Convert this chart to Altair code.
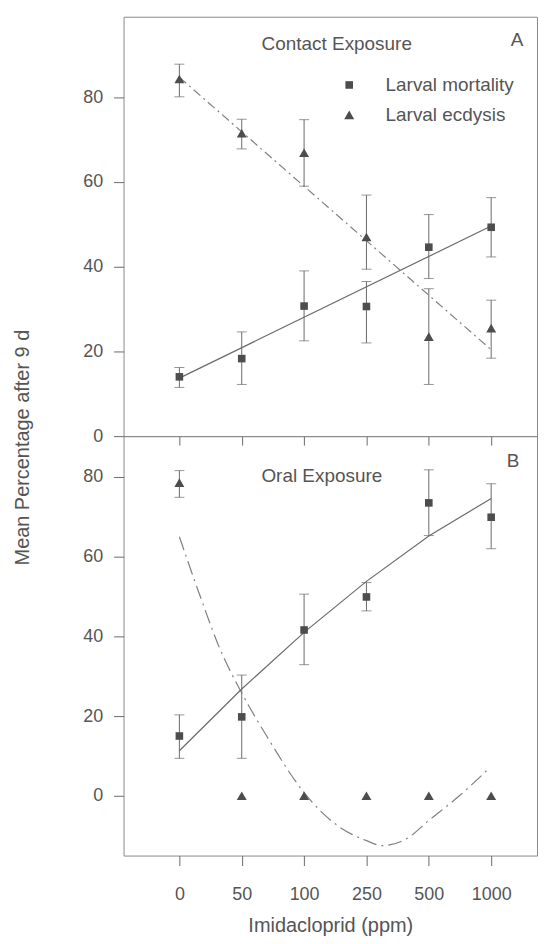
import json
import altair as alt
import pandas as pd

# ---------------- data ----------------
doses = ["0", "50", "100", "250", "500", "1000"]
pos = [0, 1, 2, 3, 4, 5]
series_names = ["Larval mortality", "Larval ecdysis"]

# Panel A : Contact exposure
a_mort = [14.0, 18.3, 30.7, 30.6, 44.6, 49.3]
a_mort_lo = [11.5, 12.2, 22.5, 22.0, 37.2, 42.3]
a_mort_hi = [16.2, 24.6, 39.0, 36.5, 52.3, 56.3]
a_ecd = [84.3, 71.5, 66.9, 47.0, 23.5, 25.5]
a_ecd_lo = [80.1, 67.8, 59.0, 39.4, 12.2, 18.4]
a_ecd_hi = [87.8, 74.8, 74.7, 56.9, 34.8, 32.1]
a_mfit_x = [0, 5]
a_mfit_y = [13.7, 49.6]
a_efit_x = [0, 5]
a_efit_y = [84.7, 20.4]

# Panel B : Oral exposure
b_mort = [15.0, 19.8, 41.6, 49.9, 73.5, 69.9]
b_mort_lo = [9.4, 9.4, 32.9, 46.4, 65.3, 62.0]
b_mort_hi = [20.3, 30.3, 50.6, 53.5, 81.8, 78.3]
b_ecd = [78.6, 0, 0, 0, 0, 0]
b_ecd_lo = [74.9, None, None, None, None, None]
b_ecd_hi = [81.6, None, None, None, None, None]
b_mfit_x = [0, 1, 2, 3, 4, 5]
b_mfit_y = [11.3, 26.8, 41.0, 53.8, 65.2, 74.6]
b_efit_x = [0, 0.335, 0.655, 1.0, 1.40, 2.0, 2.47, 2.99, 3.26, 3.64, 4.0, 4.49, 4.98]
b_efit_y = [65, 50, 36.7, 25.8, 15, 0.8, -6.7, -11.2, -12.5, -10.8, -6.2, 0, 7.1]

y_ticks = [0, 20, 40, 60, 80]

FONT = "Liberation Sans"
TXT = "#555555"
MARK = "#4d4d4d"
LINE = "#6a6a6a"
X_DOMAIN = [-0.895, 5.735]
W, H = 415, 421


def panel(mort, mort_lo, mort_hi, ecd, ecd_lo, ecd_hi,
          mfx, mfy, efx, efy, ydom, label, letter, label_xy, letter_xy,
          top, edash):
    pts = pd.DataFrame({
        "pos": pos + pos,
        "value": mort + ecd,
        "lo": mort_lo + ecd_lo,
        "hi": mort_hi + ecd_hi,
        "series": [series_names[0]] * 6 + [series_names[1]] * 6,
    })
    err = pts.dropna(subset=["lo", "hi"])
    caps = pd.concat([
        err[["pos", "lo"]].rename(columns={"lo": "v"}),
        err[["pos", "hi"]].rename(columns={"hi": "v"}),
    ])

    xs = alt.Scale(domain=X_DOMAIN, nice=False, zero=False)
    ys = alt.Scale(domain=ydom, nice=False, zero=False)

    common_y = dict(values=y_ticks, tickSize=10, labelPadding=11,
                    grid=False, domain=False, labelFontSize=18,
                    labelFont=FONT, labelColor=TXT, tickColor=LINE)
    if top:
        xaxis = alt.Axis(values=pos, labels=False, title=None, tickSize=9,
                         domain=False, grid=False, tickColor=LINE)
        yaxis = alt.Axis(title="Mean Percentage after 9 d",
                         titleX=-101, titleY=432, titleAngle=270,
                         titleAlign="center", titleBaseline="middle",
                         titleFontSize=20, titleFontWeight="normal",
                         titleFont=FONT, titleColor=TXT, **common_y)
        legend = alt.Legend(orient="none", legendX=217, legendY=59,
                            title=None, labelFontSize=19,
                            labelOffset=27,
                            rowPadding=10, padding=0,
                            symbolFillColor=MARK,
                            symbolStrokeColor=MARK,
                            symbolStrokeWidth=0,
                            labelColor=TXT, labelFont=FONT)
    else:
        xaxis = alt.Axis(values=pos, title="Imidacloprid (ppm)",
                         labelExpr=json.dumps(doses) + "[datum.value]",
                         tickSize=10, labelPadding=20, titlePadding=12,
                         domain=False, grid=False, tickColor=LINE,
                         labelFontSize=18, labelFont=FONT, labelColor=TXT,
                         titleFontSize=20, titleFontWeight="normal",
                         titleFont=FONT, titleColor=TXT)
        yaxis = alt.Axis(title=None, **common_y)
        legend = None

    x = alt.X("pos:Q", scale=xs, axis=xaxis)

    rules = alt.Chart(err).mark_rule(color=LINE, strokeWidth=1).encode(
        x=x, y=alt.Y("lo:Q", scale=ys, axis=yaxis), y2="hi:Q")
    capm = alt.Chart(caps).mark_tick(orient="horizontal", size=10,
                                     thickness=1, color=LINE).encode(
        x="pos:Q", y="v:Q")

    mfit = alt.Chart(pd.DataFrame({"px": mfx, "py": mfy})).mark_line(
        color=LINE, strokeWidth=1.2).encode(x="px:Q", y="py:Q")
    efit = alt.Chart(pd.DataFrame({"px": efx, "py": efy})).mark_line(
        color="#808080", strokeWidth=1.2, strokeDash=edash,
        interpolate="monotone").encode(x="px:Q", y="py:Q")

    points = alt.Chart(pts).mark_point(filled=True, opacity=1,
                                       color=MARK, strokeWidth=0).encode(
        x="pos:Q", y="value:Q",
        shape=alt.Shape("series:N",
                        scale=alt.Scale(domain=series_names,
                                        range=["square", "triangle-up"]),
                        legend=legend),
        size=alt.Size("series:N",
                      scale=alt.Scale(domain=series_names,
                                      range=[58, 100]),
                      legend=legend))

    t1 = alt.Chart(pd.DataFrame({"t": [label]})).mark_text(
        fontSize=19, font=FONT, color=TXT, align="center",
        baseline="middle").encode(text="t:N", x=alt.value(label_xy[0]),
                                  y=alt.value(label_xy[1]))
    t2 = alt.Chart(pd.DataFrame({"t": [letter]})).mark_text(
        fontSize=19, font=FONT, color=TXT, align="center",
        baseline="middle").encode(text="t:N", x=alt.value(letter_xy[0]),
                                  y=alt.value(letter_xy[1]))

    return alt.layer(rules, capm, efit, mfit, points, t1, t2).properties(
        width=W, height=H)


top = panel(a_mort, a_mort_lo, a_mort_hi, a_ecd, a_ecd_lo, a_ecd_hi,
            a_mfit_x, a_mfit_y, a_efit_x, a_efit_y, [0, 99],
            "Contact Exposure", "A", (214, 27), (395, 23), True,
            [9, 4, 2, 4])
bottom = panel(b_mort, b_mort_lo, b_mort_hi, b_ecd, b_ecd_lo, b_ecd_hi,
               b_mfit_x, b_mfit_y, b_efit_x, b_efit_y, [-15, 90.25],
               "Oral Exposure", "B", (199, 40), (391, 25), False,
               [14, 5, 2, 5])

chart = alt.vconcat(top, bottom, spacing=0, bounds="flush").resolve_scale(
    x="independent", y="independent", shape="independent",
    size="independent"
).resolve_legend(shape="independent", size="independent").properties(
    padding={"left": 4, "top": 6, "right": 0, "bottom": 0},
    background="white"
).configure_view(stroke="#8a8a8a", strokeWidth=1)

chart.save("out.html", embed_options={"renderer": "svg", "actions": False})
